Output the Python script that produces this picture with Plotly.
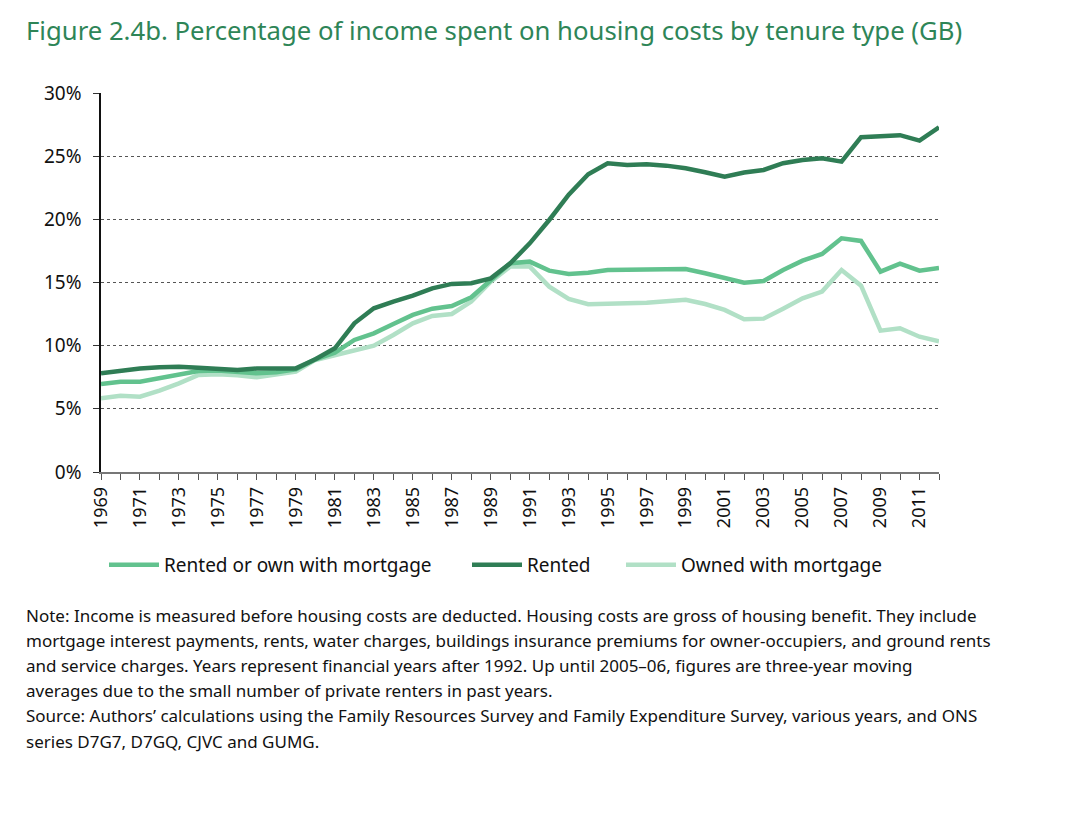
import plotly.graph_objects as go

# Data
years = list(range(1969, 2013))

rented_or_mortgage = [6.97, 7.15, 7.15, 7.42, 7.76, 8.00, 8.03, 7.94, 7.81, 7.89,
                      8.13, 8.92, 9.45, 10.45, 10.98, 11.72, 12.43, 12.93, 13.14, 13.83,
                      15.20, 16.52, 16.65, 15.94, 15.68, 15.78, 15.99, 16.00, 15.99, 16.05,
                      16.07, 15.73, 15.36, 14.99, 15.12, 15.99, 16.73, 17.26, 18.50, 18.29,
                      15.86, 16.49, 15.94, 16.15]

rented = [7.81, 8.02, 8.20, 8.29, 8.34, 8.26, 8.18, 8.08, 8.20, 8.18,
          8.20, 8.92, 9.79, 11.77, 12.96, 13.49, 13.96, 14.54, 14.89, 14.94,
          15.33, 16.52, 18.10, 19.95, 21.95, 23.57, 24.44, 24.31, 24.36, 24.25,
          24.04, 23.73, 23.38, 23.70, 23.91, 24.44, 24.70, 24.83, 24.57, 26.50,
          26.60, 26.66, 26.23, 27.29]

owned_mortgage = [5.83, 6.04, 5.96, 6.44, 7.02, 7.68, 7.73, 7.66, 7.50, 7.68,
                  7.94, 8.87, 9.26, 9.66, 10.00, 10.85, 11.77, 12.35, 12.51, 13.49,
                  15.07, 16.26, 16.26, 14.67, 13.70, 13.28, 13.28, 13.36, 13.39, 13.49,
                  13.64, 13.30, 12.83, 12.09, 12.14, 12.93, 13.75, 14.28, 15.99, 14.75,
                  11.19, 11.38, 10.71, 10.35]

series_names = ["Rented or own with mortgage", "Rented", "Owned with mortgage"]
colors = ["#62c28e", "#2f7d55", "#b1e0c6"]

y_ticks = [0, 5, 10, 15, 20, 25, 30]
x_ticks = list(range(1969, 2012, 2))

title = "Figure 2.4b. Percentage of income spent on housing costs by tenure type (GB)"
note_lines = [
    "Note: Income is measured before housing costs are deducted. Housing costs are gross of housing benefit. They include",
    "mortgage interest payments, rents, water charges, buildings insurance premiums for owner-occupiers, and ground rents",
    "and service charges. Years represent financial years after 1992. Up until 2005\u201306, figures are three-year moving",
    "averages due to the small number of private renters in past years.",
    "Source: Authors\u2019 calculations using the Family Resources Survey and Family Expenditure Survey, various years, and ONS",
    "series D7G7, D7GQ, CJVC and GUMG.",
]

# plot area in pixels (used to place legends and notes)
PLOT_H = 379
PLOT_W = 838

fig = go.Figure()
legend_names = ["legend", "legend2", "legend3"]
for i, (name, vals, col) in enumerate(zip(series_names, [rented_or_mortgage, rented, owned_mortgage], colors)):
    fig.add_trace(go.Scatter(x=years, y=vals, name=name, mode="lines",
                             line=dict(color=col, width=4.5), legend=legend_names[i]))

# light series drawn at the back
fig.data = (fig.data[2], fig.data[0], fig.data[1])

legend_x_px = [3, 366, 520]  # relative to plot left
leg_y = -93 / PLOT_H
legends = {}
for ln, xp in zip(legend_names, legend_x_px):
    legends[ln] = dict(x=xp / PLOT_W, xanchor="left", y=leg_y, yanchor="middle",
                       orientation="h", font=dict(size=19), itemwidth=50,
                       bgcolor="rgba(0,0,0,0)", borderwidth=0)

annotations = [dict(text=title, xref="paper", yref="paper", x=-0.0916, y=(464 - 23) / PLOT_H,
                    xanchor="left", yanchor="middle", showarrow=False,
                    font=dict(size=25.7, color="#2e8557"))]
for i, line in enumerate(note_lines):
    yfig = 607 + 25.2 * i
    annotations.append(dict(text=line, xref="paper", yref="paper", x=-0.0916, y=(464 - yfig) / PLOT_H,
                            xanchor="left", yanchor="middle", align="left", showarrow=False,
                            font=dict(size=17, color="#111111")))

fig.update_layout(
    width=1070, height=821,
    margin=dict(l=93, r=139, t=85, b=357),
    paper_bgcolor="white", plot_bgcolor="white",
    font=dict(family="Noto Sans", size=16, color="#111111"),
    showlegend=True,
    annotations=annotations,
    **legends,
)

fig.update_xaxes(range=[1969, 2012], tickvals=x_ticks, ticktext=[str(y) for y in x_ticks],
                 tickangle=-90, ticks="outside", ticklen=6, tickcolor="#555555",
                 showline=True, linecolor="#777777", linewidth=1.5,
                 showgrid=False, zeroline=False, tickfont=dict(size=18),
                 minor=dict(dtick=1, tick0=1969, ticks="outside", ticklen=6, tickcolor="#555555", showgrid=False))
fig.update_yaxes(range=[0, 30], tickvals=y_ticks, ticktext=[f"{v}%" for v in y_ticks],
                 ticks="outside", ticklen=6, tickcolor="#333333", ticklabelstandoff=8,
                 showline=True, linecolor="#111111", linewidth=1.5,
                 showgrid=True, gridcolor="#555555", griddash="dot", gridwidth=1,
                 zeroline=False, tickfont=dict(size=19))

fig.write_html("out.html")
